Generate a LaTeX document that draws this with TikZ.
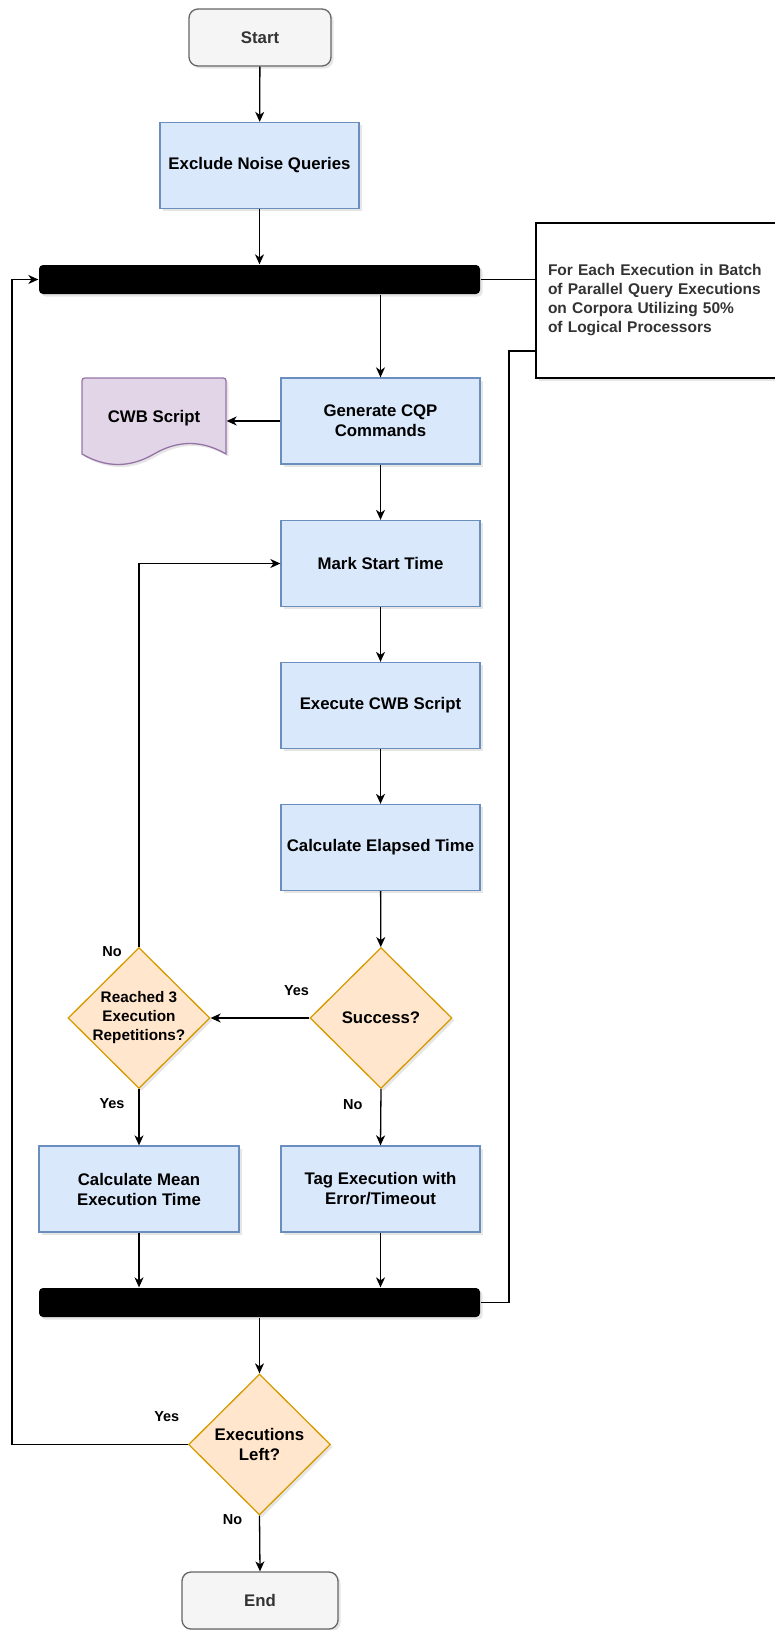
\documentclass[tikz,border=0pt]{standalone}
\usepackage{fontspec}
\setmainfont{Liberation Sans}
\usetikzlibrary{arrows.meta,positioning,shapes.geometric,shadows}
\definecolor{procfill}{HTML}{dae8fc}
\definecolor{procline}{HTML}{6c8ebf}
\definecolor{decfill}{HTML}{ffe6cc}
\definecolor{decline}{HTML}{d79b00}
\definecolor{termfill}{HTML}{f5f5f5}
\definecolor{termline}{HTML}{666666}
\definecolor{docfill}{HTML}{e1d5e7}
\definecolor{docline}{HTML}{9673a6}
\definecolor{darkfg}{HTML}{333333}

\begin{document}
\begin{tikzpicture}[
    x=1pt, y=-1pt,
    >={Stealth[length=10pt,width=9pt,inset=3pt]},
    line width=1.3pt,
    font=\bfseries\fontsize{16.8}{20}\selectfont,
    softshadow/.style={drop shadow={opacity=0.2,shadow xshift=2.5pt,shadow yshift=-2.5pt}},
    procbox/.style={rectangle, draw=procline, fill=procfill, softshadow,
      minimum width=199, minimum height=86, align=center, inner sep=2pt},
    termbox/.style={rectangle, rounded corners=9pt, draw=termline, fill=termfill,
      softshadow, minimum height=57, text=darkfg},
    decision/.style={diamond, draw=decline, fill=decfill, softshadow,
      minimum width=142, minimum height=141, inner sep=0pt},
    syncbar/.style={rectangle, rounded corners=4pt, fill=black, softshadow,
      minimum width=441, minimum height=29, inner sep=0pt},
    flow/.style={->},
    edgelabel/.style={font=\bfseries\fontsize{14.5}{17}\selectfont, inner sep=0pt},
  ]

  \useasboundingbox (0,0) rectangle (774,1630);

  % Start and preprocessing
  \node[termbox, minimum width=142] (start) at (260,37.5) {Start};
  \node[procbox] (noise) at (259.5,165.5) {Exclude Noise Queries};

  % Fork bar and its note
  \node[syncbar] (fork) at (259.5,279.5) {};
  \node[rectangle, draw, line width=2.8pt, fill=white, softshadow,
    text width=240, inner xsep=12pt, minimum height=155, align=left,
    text=darkfg, font=\bfseries\fontsize{15.5}{19}\selectfont] (note) at (668,300.5)
    {For Each Execution in Batch\\of Parallel Query Executions\\on Corpora Utilizing 50\%\\of Logical Processors};
  \coordinate (noteturn) at (509,351);

  % Script generation
  \node[procbox] (cqp) at (380.5,421) {Generate CQP\\Commands};
  \draw[docline, fill=docfill, softshadow]
    (82,454) -- (82,384) .. controls (82,378) .. (88,378) -- (220,378)
    .. controls (226,378) .. (226,384) -- (226,454)
    .. controls (202,440) and (178,440) .. (154,454)
    .. controls (130,468) and (106,468) .. (82,454) -- cycle;
  \node[minimum width=144, minimum height=76] (cwb) at (154,418) {CWB Script};

  % Timed execution
  \node[procbox] (mark) at (380.5,563.5) {Mark Start Time};
  \node[procbox] (exec) at (380.5,705.5) {Execute CWB Script};
  \node[procbox] (elapsed) at (380.5,847.5) {Calculate Elapsed Time};

  % Decisions
  \node[decision, label={center:Success?}] (success) at (381,1018) {};
  \node[decision, label={[align=center, font=\bfseries\fontsize{15.3}{19}\selectfont]center:Reached 3\\Execution\\Repetitions?}] (repeat) at (139,1018) {};

  % Outcomes
  \node[procbox, minimum width=200] (mean) at (139,1189) {Calculate Mean\\Execution Time};
  \node[procbox] (tag) at (380.5,1189) {Tag Execution with\\Error/Timeout};

  % Join bar and end
  \node[syncbar] (join) at (259.5,1302.5) {};
  \node[decision, label={[align=center]center:Executions\\Left?}] (left) at (259.5,1444.5) {};
  \coordinate (loopx) at (12,1444.5);
  \node[termbox, minimum width=156] (end) at (260,1600.5) {End};

  % Connectors
  \draw[flow] (start) -- (noise);
  \draw[flow] (noise) -- (noise |- fork.north);
  \draw (fork.east) -- (fork.east -| note.west);
  \draw (note.west |- noteturn) -- (noteturn) |- (join.east);
  \draw[flow] (fork.south -| cqp) -- (cqp);
  \draw[flow] (cqp.west) -- (cqp.west -| cwb.east);
  \draw[flow] (cqp) -- (mark);
  \draw[flow] (mark) -- (exec);
  \draw[flow] (exec) -- (elapsed);
  \draw[flow] (elapsed) -- (success);
  \draw[flow] (success.west) -- (repeat.east)
    node[edgelabel, pos=0.13, yshift=27] {Yes};
  \draw[flow] (repeat.north) |- (mark.west)
    node[edgelabel, pos=0, xshift=-27, yshift=-5] {No};
  \draw[flow] (repeat.south) -- (mean.north)
    node[edgelabel, pos=0.26, xshift=-27] {Yes};
  \draw[flow] (success.south) -- (tag.north)
    node[edgelabel, pos=0.28, xshift=-28] {No};
  \draw[flow] (mean) -- (mean |- join.north);
  \draw[flow] (tag) -- (tag |- join.north);
  \draw[flow] (join.south -| left) -- (left);
  \draw[flow] (left.west)
    -- node[edgelabel, pos=0.12, yshift=27.5] {Yes} (loopx)
    |- (fork.west);
  \draw[flow] (left.south) -- (end.north)
    node[edgelabel, pos=0.04, xshift=-27, yshift=-2] {No};

\end{tikzpicture}
\end{document}
